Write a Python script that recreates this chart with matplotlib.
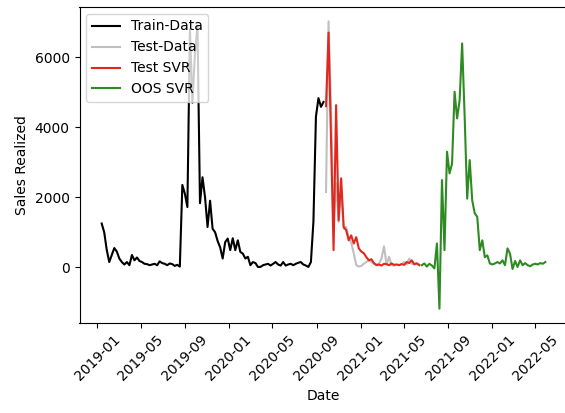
import matplotlib
matplotlib.use("Agg")
import matplotlib.pyplot as plt
import matplotlib.dates as mdates
import pandas as pd

# Weekly sales series
start_date = "2019-01-13"

train_sales = [
    1250, 1000, 500, 150, 350, 550, 450, 250, 150, 80,
    150, 60, 350, 200, 280, 180, 150, 100, 90, 60,
    80, 100, 60, 170, 120, 100, 60, 110, 90, 40,
    70, 20, 2350, 2100, 1720, 6800, 4700, 6100, 6900, 1830,
    2570, 2000, 1150, 1900, 1100, 1000, 750, 570, 250, 720,
    820, 490, 830, 490, 770, 440, 390, 250, 300, 60,
    150, 120, 10, 10, 60, 80, 100, 50, 100, 150,
    80, 50, 150, 50, 80, 100, 60, 100, 130, 150,
    80, 50, 10, 150, 1300, 4300, 4830, 4580, 4720,
]

test_sales = [
    2150, 7020, 4500, 1200, 2400, 1300, 2200, 1100, 1150, 850,
    700, 400, 60, 20, 40, 100, 150, 200, 150, 100,
    80, 100, 250, 600, 80, 300, 60, 50, 80, 60,
    100, 150, 80, 250, 100, 80, 120, 80,
]

test_svr = [
    4600, 6700, 3600, 490, 4630, 1340, 2540, 1150, 1060, 770,
    910, 680, 860, 540, 450, 400, 290, 200, 230, 120,
    60, 80, 50, 100, 90, 60, 110, 70, 80, 60,
    90, 70, 150, 120, 200, 90, 110, 60,
]

oos_svr = [
    60, 110, 20, 100, 50, -30, 680, -1180, 2490, 490,
    3300, 2680, 2960, 5010, 4250, 4770, 6390, 4300, 1960, 3060,
    1910, 1540, 1440, 490, 770, 290, 340, 110, 80, 110,
    150, 110, 200, 60, 540, 390, -50, 180, 10, 200,
    60, 120, 60, 30, 80, 100, 80, 120, 100, 150,
]

n_total = len(train_sales) + len(test_sales) + len(oos_svr)
dates = pd.date_range(start_date, periods=n_total, freq="7D")
n_tr, n_te = len(train_sales), len(test_sales)
train_dates = dates[:n_tr]
test_dates = dates[n_tr:n_tr + n_te]
oos_dates = dates[n_tr + n_te:]

fig = plt.figure(figsize=(5.65, 4.13), dpi=100)
ax = fig.add_axes([79.5 / 565, 90 / 413, 488 / 565, 316 / 413])

ax.plot(train_dates, train_sales, color="black", label="Train-Data")
ax.plot(test_dates, test_sales, color="silver", label="Test-Data")
ax.plot(test_dates, test_svr, color="#e0281e", label="Test SVR")
ax.plot(oos_dates, oos_svr, color="#2e8b22", label="OOS SVR")

ax.xaxis.set_major_locator(mdates.MonthLocator(bymonth=[1, 5, 9]))
ax.xaxis.set_major_formatter(mdates.DateFormatter("%Y-%m"))
plt.setp(ax.get_xticklabels(), rotation=45)

ax.set_xlabel("Date")
ax.set_ylabel("Sales Realized")
ax.legend(loc="upper left")

fig.savefig("out.png", dpi=100)
